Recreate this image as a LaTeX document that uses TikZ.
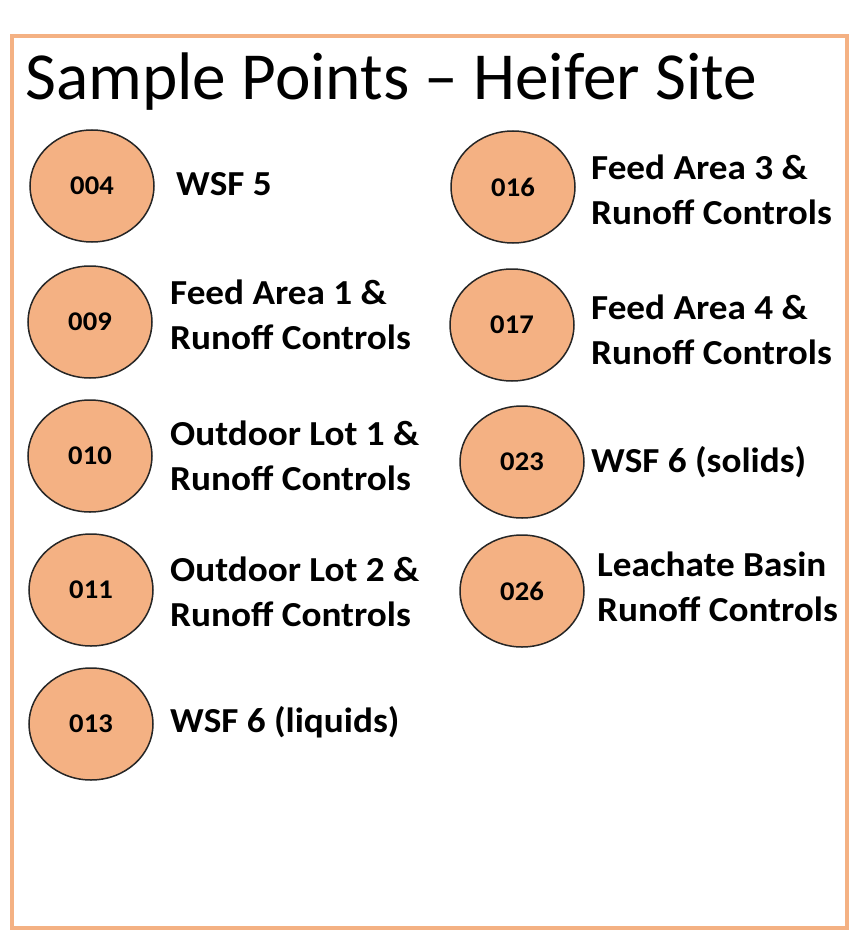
\documentclass[tikz,border=0pt]{standalone}
\usepackage{fontspec}
\usetikzlibrary{shapes.geometric}
\setmainfont{Carlito}
\newfontfamily\widefont[FakeStretch=1.06]{Carlito}
\definecolor{salmon}{HTML}{F4B183}
\begin{document}
\begin{tikzpicture}[x=1pt,y=-1pt,
  pt/.style={ellipse, draw=black!85, line width=1.5pt, fill=salmon, minimum width=124pt, minimum height=112pt, inner sep=0pt, font=\widefont\fontsize{27}{30}\selectfont\bfseries},
  lbl/.style={anchor=west, align=left, inner sep=0pt, font=\widefont\fontsize{35.1}{45}\selectfont\bfseries}]
\useasboundingbox (0,0) rectangle (849,931);
\draw[salmon, line width=4pt] (12,36) rectangle (847,928);
\node[anchor=base west, inner sep=0pt, font=\fontsize{67.3}{70}\selectfont] (title) at (25,100) {Sample Points – Heifer Site};
\node[pt] (p004) at (92,186) {004};
\node[pt] (p009) at (90,322) {009};
\node[pt] (p010) at (90,456) {010};
\node[pt] (p011) at (91,590) {011};
\node[pt] (p013) at (91,724) {013};
\node[pt] (p016) at (513,187) {016};
\node[pt] (p017) at (512,325) {017};
\node[pt] (p023) at (522,462) {023};
\node[pt] (p026) at (522,591) {026};
\node[lbl] (l004) at (176,184) {WSF 5};
\node[lbl] (l009) at (170,315) {Feed Area 1 \&\\Runoff Controls};
\node[lbl] (l010) at (170,456) {Outdoor Lot 1 \&\\Runoff Controls};
\node[lbl] (l011) at (170,592) {Outdoor Lot 2 \&\\Runoff Controls};
\node[lbl] (l013) at (170,722) {WSF 6 (liquids)};
\node[lbl] (l016) at (591,190) {Feed Area 3 \&\\Runoff Controls};
\node[lbl] (l017) at (591,330) {Feed Area 4 \&\\Runoff Controls};
\node[lbl] (l023) at (591,462) {WSF 6 (solids)};
\node[lbl] (l026) at (597,587) {Leachate Basin\\Runoff Controls};
\end{tikzpicture}
\end{document}
